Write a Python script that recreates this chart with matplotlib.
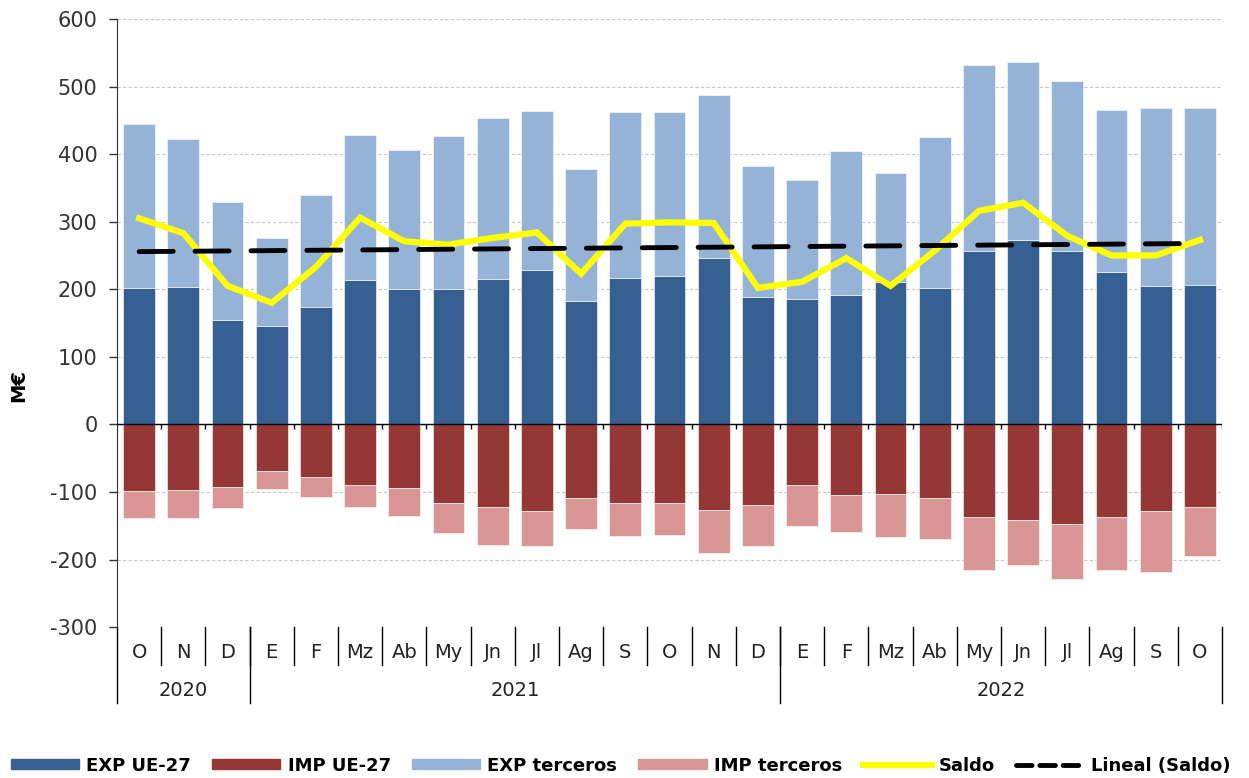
import numpy as np
import matplotlib.pyplot as plt
import matplotlib.transforms as mtransforms
from matplotlib.lines import Line2D
from matplotlib.patches import Patch

plt.rcParams['axes.unicode_minus'] = False

# meses (oct 2020 - oct 2022)
meses = ['O', 'N', 'D', 'E', 'F', 'Mz', 'Ab', 'My', 'Jn', 'Jl', 'Ag', 'S',
         'O', 'N', 'D', 'E', 'F', 'Mz', 'Ab', 'My', 'Jn', 'Jl', 'Ag', 'S', 'O']
anios = ['2020', '2021', '2022']

# M€
exp_ue = [202, 204, 155, 145, 173, 213, 200, 200, 215, 228, 183, 217,
          219, 246, 189, 185, 192, 211, 202, 257, 273, 257, 226, 205, 207]
exp_terceros = [242, 218, 174, 131, 167, 215, 206, 227, 239, 236, 195, 245,
                243, 242, 193, 176, 213, 161, 224, 275, 263, 251, 240, 263, 261]
imp_ue = [-99, -97, -92, -69, -78, -90, -94, -116, -122, -128, -109, -116,
          -116, -126, -120, -90, -105, -103, -109, -137, -141, -147, -137, -128, -122]
imp_terceros = [-40, -42, -32, -27, -29, -32, -41, -45, -56, -52, -46, -49,
                -47, -64, -60, -60, -54, -64, -60, -79, -67, -82, -79, -90, -73]

exp_ue = np.array(exp_ue)
exp_terceros = np.array(exp_terceros)
imp_ue = np.array(imp_ue)
imp_terceros = np.array(imp_terceros)

saldo = exp_ue + exp_terceros + imp_ue + imp_terceros
x = np.arange(len(meses))
coef = np.polyfit(x, saldo, 1)
tendencia = np.polyval(coef, x)

c_exp_ue = '#376092'
c_imp_ue = '#953735'
c_exp_ter = '#95B3D7'
c_imp_ter = '#D99694'
guiones = (7, 4.5)

fig = plt.figure(figsize=(12.49, 7.78), dpi=100)
ax = fig.add_axes([0.0937, 0.194, 0.8847, 0.7816])

w = 0.72
ax.bar(x, exp_ue, w, color=c_exp_ue, edgecolor='white', linewidth=0.4, zorder=2)
ax.bar(x, exp_terceros, w, bottom=exp_ue, color=c_exp_ter, edgecolor='white', linewidth=0.4, zorder=2)
ax.bar(x, imp_ue, w, color=c_imp_ue, edgecolor='white', linewidth=0.4, zorder=2)
ax.bar(x, imp_terceros, w, bottom=imp_ue, color=c_imp_ter, edgecolor='white', linewidth=0.4, zorder=2)

ax.plot(x, saldo, color='#FFFF00', lw=4.5, zorder=4, solid_joinstyle='miter')
ax.plot(x, tendencia, color='black', lw=3.5, dashes=guiones, dash_capstyle='round', zorder=5)

ax.axhline(0, color='black', lw=1.0, zorder=3)

ax.set_xlim(-0.5, len(meses) - 0.5)
ax.set_ylim(-300, 600)
ax.set_yticks(np.arange(-300, 601, 100))
ax.tick_params(axis='y', labelsize=15, length=6, width=1, colors='#333333', labelcolor='#333333', pad=8)
ax.grid(axis='y', color='#c8c8c8', lw=0.8, linestyle=(0, (3, 2)), zorder=0)
ax.set_axisbelow(True)
for s in ['top', 'right', 'bottom']:
    ax.spines[s].set_visible(False)
ax.spines['left'].set_color('#333333')

# pequeñas marcas sobre el eje 0
ax.vlines(x[:-1] + 0.5, -7, 0, color='black', lw=1, zorder=3)
ax.vlines([len(meses) - 0.5], -7, 0, color='black', lw=1, zorder=3)

# etiquetas de meses y años bajo el eje
ax.set_xticks([])
trans = mtransforms.blended_transform_factory(ax.transData, ax.transAxes)
px = 1.0 / (0.7816 * 778)
for i, m in enumerate(meses):
    ax.text(i, -25 * px, m, transform=trans, ha='center', va='center', fontsize=14, color='#222222')
for xs in x[:-1] + 0.5:
    ax.plot([xs, xs], [0, -38 * px], transform=trans, color='black', lw=1, clip_on=False)
for xs in [-0.5, 2.5, 14.5, len(meses) - 0.5]:
    ax.plot([xs, xs], [0, -76 * px], transform=trans, color='black', lw=1, clip_on=False)
for pos, a in zip([1, 8.5, 19.5], anios):
    ax.text(pos, -63 * px, a, transform=trans, ha='center', va='center', fontsize=14, color='#222222')

fig.text(0.015, 0.505, 'M€', rotation=90, ha='center', va='center', fontsize=14, fontweight='bold')

handles = [Patch(color=c_exp_ue), Patch(color=c_imp_ue), Patch(color=c_exp_ter), Patch(color=c_imp_ter),
           Line2D([], [], color='#FFFF00', lw=4.5),
           Line2D([], [], color='black', lw=3.5, dashes=(3.2, 1.6), dash_capstyle='round')]
labels = ['EXP UE-27', 'IMP UE-27', 'EXP terceros', 'IMP terceros', 'Saldo', 'Lineal (Saldo)']
leg = fig.legend(handles, labels, loc='center', bbox_to_anchor=(0.497, 0.016), ncol=6, frameon=False,
                 prop={'weight': 'bold', 'size': 13}, handlelength=3.8, handleheight=0.45,
                 columnspacing=1.15, handletextpad=0.4)

fig.savefig('out.png', dpi=100)
